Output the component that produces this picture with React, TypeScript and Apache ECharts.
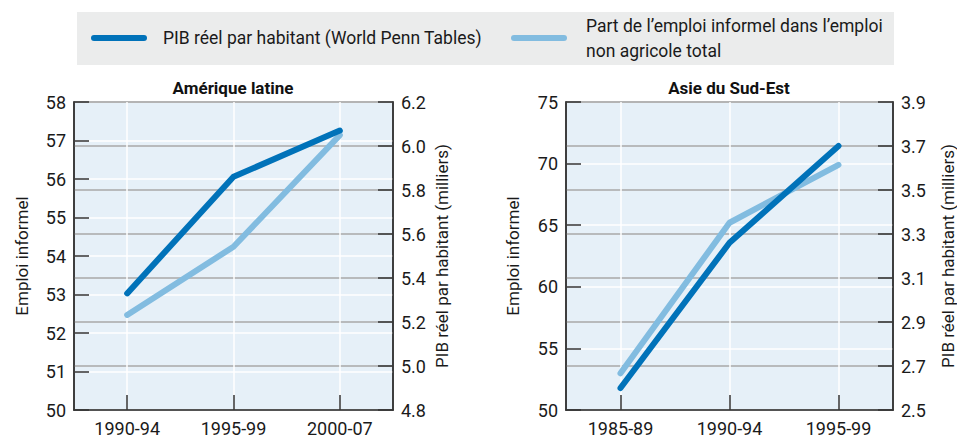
import React, { useEffect, useRef } from "react";
import * as echarts from "echarts";

const seriesNames = [
  "PIB réel par habitant (World Penn Tables)",
  "Part de l’emploi informel dans l’emploi non agricole total",
];
const legendLabels = [
  "PIB réel par habitant (World Penn Tables)",
  "Part de l’emploi informel dans l’emploi\nnon agricole total",
];

const titles = ["Amérique latine", "Asie du Sud-Est"];

const latamCategories = ["1990-94", "1995-99", "2000-07"];
const latamGdp = [5.33, 5.86, 6.07];
const latamInformal = [52.47, 54.24, 57.14];

const seaCategories = ["1985-89", "1990-94", "1995-99"];
const seaGdp = [2.6, 3.26, 3.7];
const seaInformal = [52.98, 65.2, 69.9];

const leftAxisName = "Emploi informel";
const rightAxisName = "PIB réel par habitant (milliers)";

const DARK = "#0072B9";
const LIGHT = "#82BCE0";
const FONT = "Roboto, 'Liberation Sans', sans-serif";

export default function App() {
  const ref = useRef<HTMLDivElement>(null);
  useEffect(() => {
    if (!ref.current) return;
    const chart = echarts.init(ref.current, undefined, { renderer: "svg" });

    const grids = [
      { left: 74, top: 102, width: 319, height: 308 },
      { left: 566, top: 102, width: 327, height: 308 },
    ];

    const tickStyle = { color: "#333", width: 1.5 };
    const labelStyle = { color: "#1a1a1a", fontSize: 18, fontFamily: FONT };
    const nameStyle = { color: "#1a1a1a", fontSize: 17, fontFamily: FONT };

    const xAxis = [latamCategories, seaCategories].map((cats, i) => ({
      type: "category",
      gridIndex: i,
      data: cats,
      boundaryGap: true,
      axisLine: { show: true, lineStyle: { color: "#333", width: 1.5 } },
      axisTick: { show: true, inside: true, length: 15, alignWithLabel: true, lineStyle: tickStyle },
      axisLabel: { ...labelStyle, margin: 9 },
      splitLine: { show: true, alignWithLabel: true, lineStyle: { color: "#ffffff", width: 1.5 } },
    }));

    const mkY = (grid: number, min: number, max: number, interval: number, pos: string, name: string, gap: number, split: any, fmt?: (v: number) => string) => ({
      type: "value",
      gridIndex: grid,
      position: pos,
      min,
      max,
      interval,
      name,
      nameLocation: "middle",
      nameRotate: 90,
      nameGap: gap,
      nameTextStyle: nameStyle,
      axisLine: { show: true, lineStyle: { color: "#333", width: 1.5 } },
      axisTick: { show: true, inside: true, length: 15, lineStyle: tickStyle },
      axisLabel: { ...labelStyle, margin: 8, formatter: fmt },
      splitLine: split,
    });

    const whiteSplit = { show: true, lineStyle: { color: "#ffffff", width: 1.5 } };
    const graySplit = { show: true, lineStyle: { color: "#A8A8A8", width: 1.5 } };
    const f1 = (v: number) => v.toFixed(1);

    const yAxis = [
      mkY(0, 50, 58, 1, "left", leftAxisName, 44, whiteSplit),
      mkY(0, 4.8, 6.2, 0.2, "right", rightAxisName, 40, graySplit, f1),
      mkY(1, 50, 75, 5, "left", leftAxisName, 45, whiteSplit),
      mkY(1, 2.5, 3.9, 0.2, "right", rightAxisName, 46, graySplit, f1),
    ];

    const line = (name: string, data: number[], color: string, xi: number, yi: number, z: number) => ({
      type: "line",
      name,
      data,
      xAxisIndex: xi,
      yAxisIndex: yi,
      symbol: "none",
      z,
      lineStyle: { color, width: 6, cap: "round", join: "round" },
      itemStyle: { color },
    });

    const series = [
      line(seriesNames[1], latamInformal, LIGHT, 0, 0, 2),
      line(seriesNames[0], latamGdp, DARK, 0, 1, 3),
      line(seriesNames[1], seaInformal, LIGHT, 1, 2, 2),
      line(seriesNames[0], seaGdp, DARK, 1, 3, 3),
    ];

    const legendText = { fill: "#1a1a1a", fontSize: 17.5, fontFamily: FONT };

    chart.setOption({
      animation: false,
      grid: grids.map((g) => ({
        ...g,
        show: true,
        backgroundColor: "#E6F0F8",
        borderColor: "#333",
        borderWidth: 1.5,
      })),
      xAxis,
      yAxis,
      series,
      graphic: [
        { type: "rect", shape: { x: 77, y: 12, width: 817, height: 53 }, style: { fill: "#EBECEC" }, silent: true },
        { type: "line", shape: { x1: 94, y1: 38, x2: 144, y2: 38 }, style: { stroke: DARK, lineWidth: 6, lineCap: "round" } },
        { type: "text", x: 163, y: 38, style: { ...legendText, text: legendLabels[0], textVerticalAlign: "middle" } },
        { type: "line", shape: { x1: 514, y1: 38, x2: 564, y2: 38 }, style: { stroke: LIGHT, lineWidth: 6, lineCap: "round" } },
        { type: "text", x: 586, y: 38, style: { ...legendText, text: legendLabels[1], textVerticalAlign: "middle", lineHeight: 25 } },
        { type: "text", x: 233, y: 88, style: { text: titles[0], textAlign: "center", textVerticalAlign: "middle", fill: "#111", fontSize: 17, fontWeight: "bold", fontFamily: FONT } },
        { type: "text", x: 729, y: 88, style: { text: titles[1], textAlign: "center", textVerticalAlign: "middle", fill: "#111", fontSize: 17, fontWeight: "bold", fontFamily: FONT } },
      ],
    });
    return () => chart.dispose();
  }, []);
  return <div ref={ref} style={{ position: "absolute", left: 0, top: 0, width: 957, height: 437 }} />;
}
